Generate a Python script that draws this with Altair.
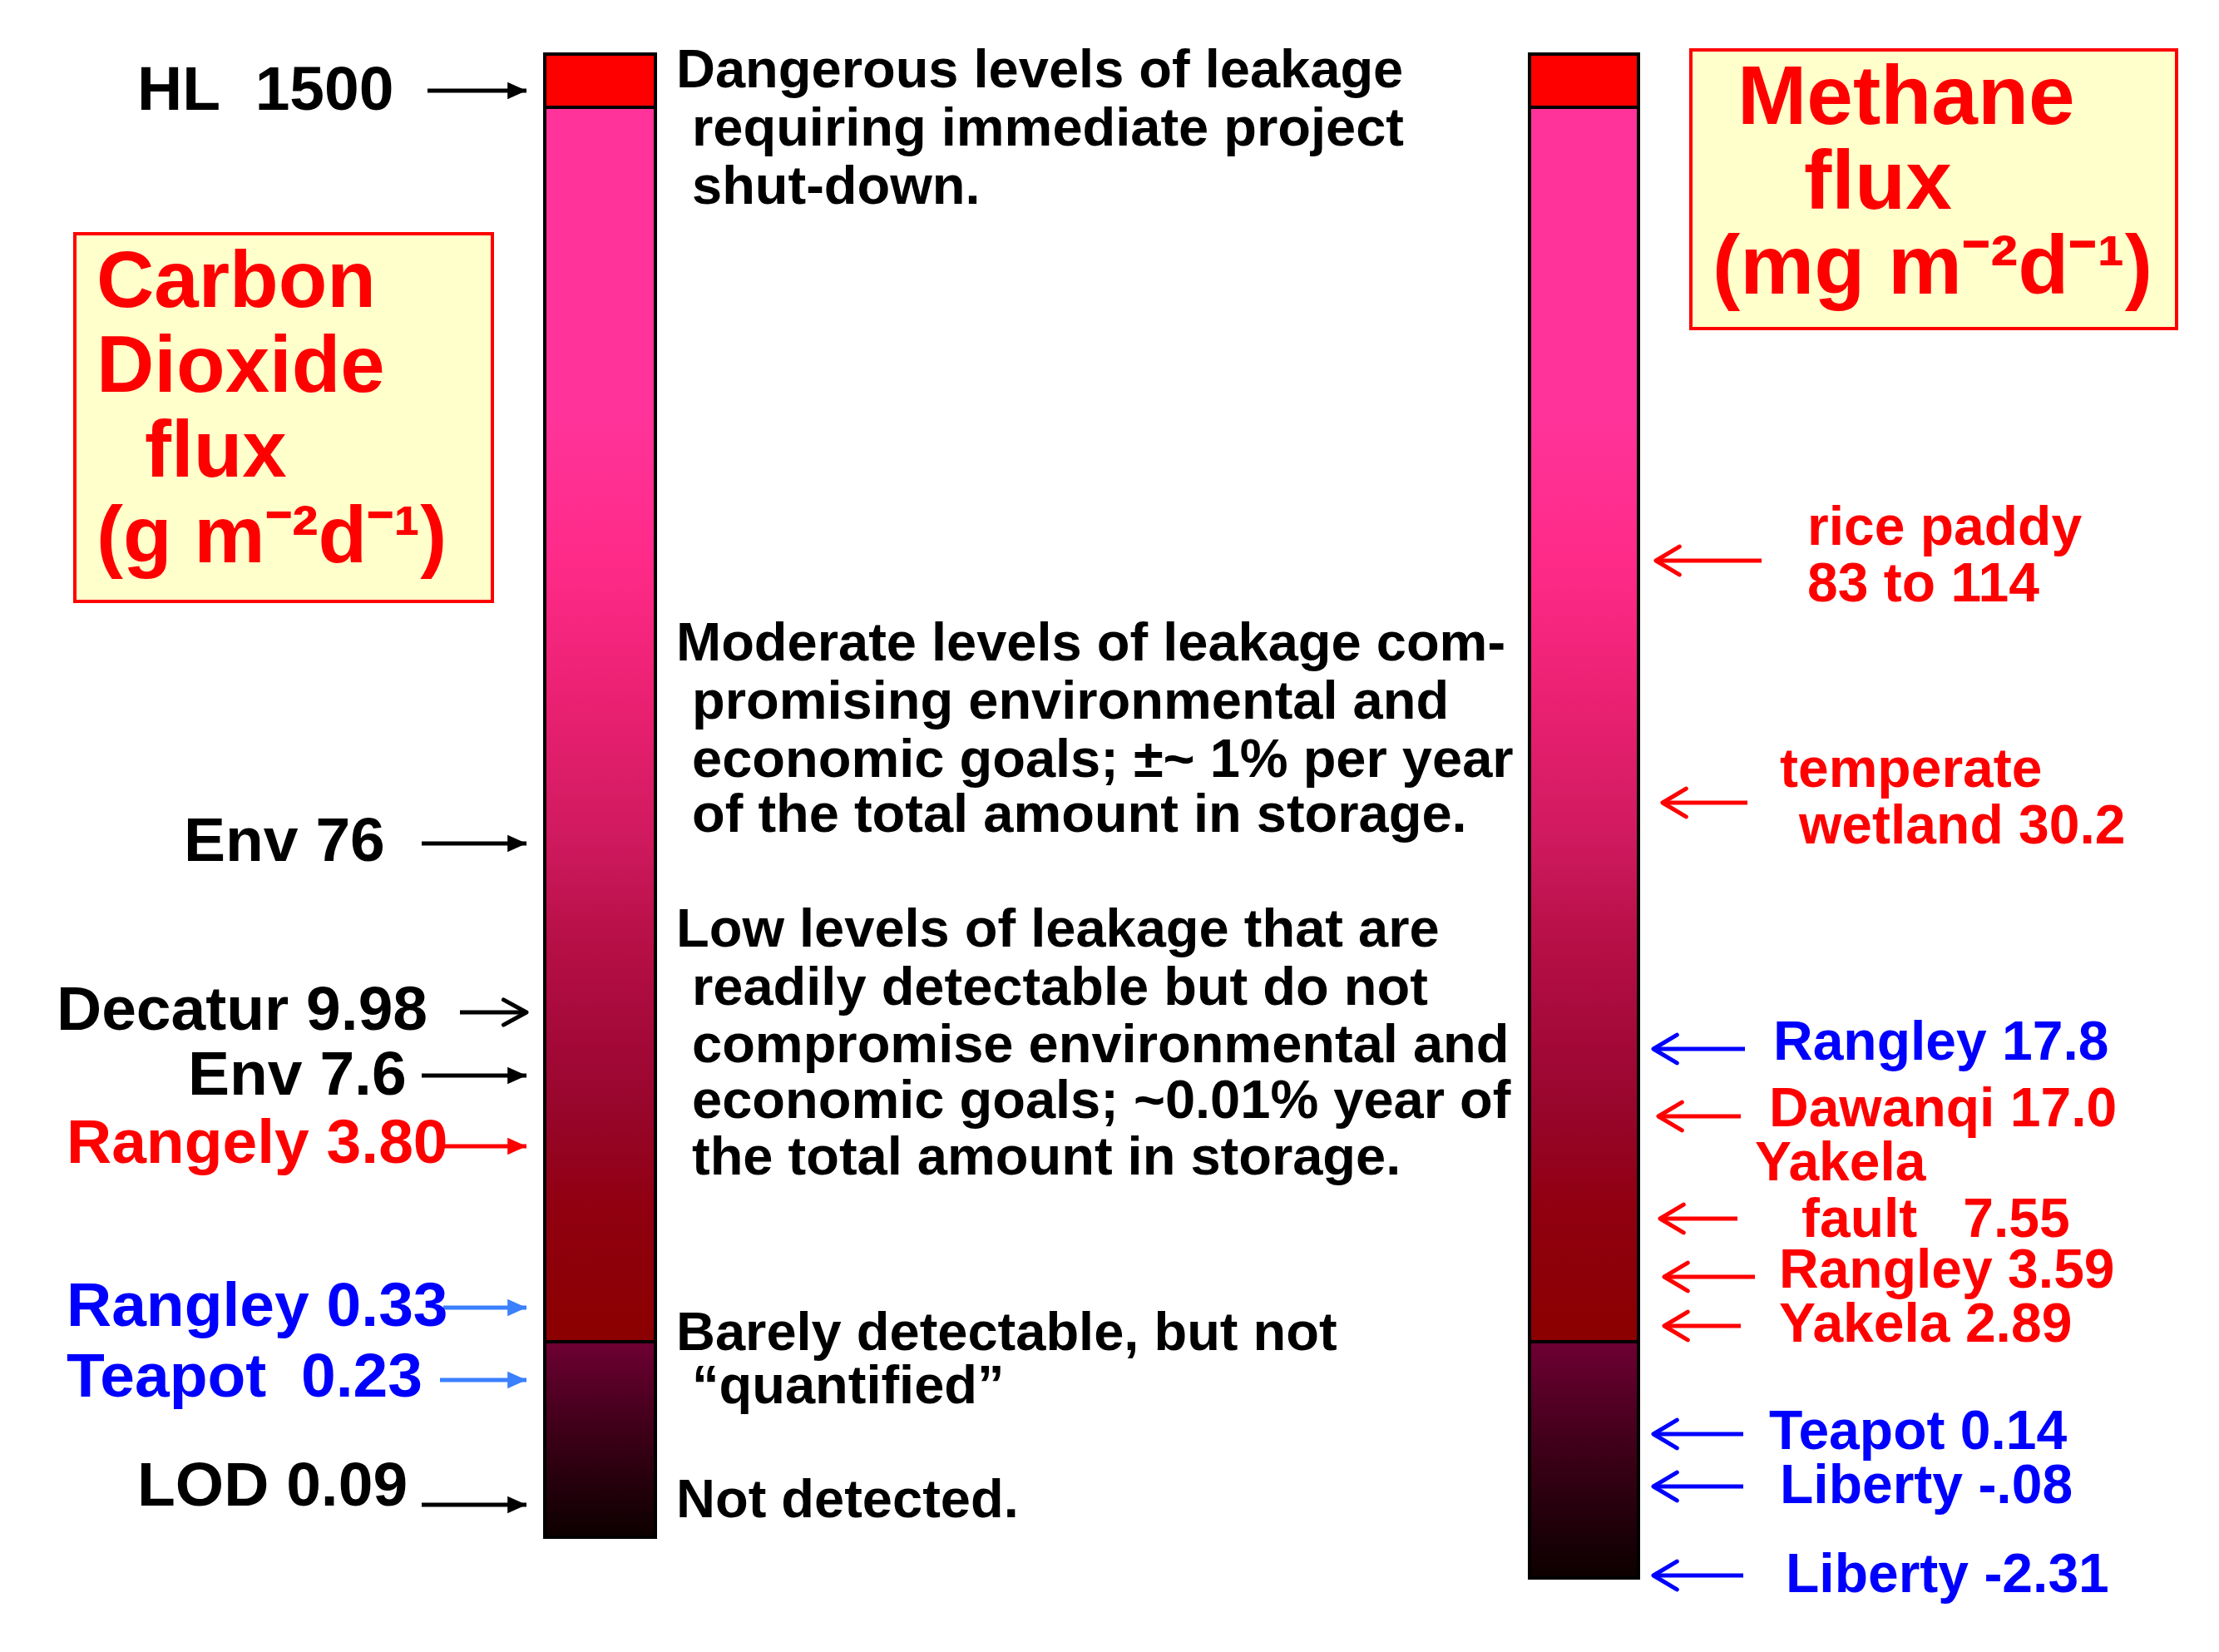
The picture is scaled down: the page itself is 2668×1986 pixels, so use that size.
import altair as alt
import pandas as pd

FONT = "Liberation Sans"
RED = "#FF0000"
BLUE = "#0000FF"
LBLUE = "#3A80FF"
BLACK = "#000000"

# ---------------- schematic flux scale (positions in reference pixel units) -------------
# bars: one column for CO2, one for CH4; three bands each
bar_name = ["CO2", "CO2", "CO2", "CH4", "CH4", "CH4"]
bar_band = ["dangerous", "leak", "barely", "dangerous", "leak", "barely"]
bar_left = [655, 655, 655, 1839, 1839, 1839]
bar_right = [788, 788, 788, 1970, 1970, 1970]
bar_top = [65, 129, 1613, 65, 129, 1613]
bar_bottom = [129, 1613, 1848, 129, 1613, 1897]

# CO2 observations (left side)
co2_text = ["HL\u00a0\u00a01500", "Env 76", "Decatur 9.98", "Env 7.6",
            "Rangely 3.80", "Rangley 0.33", "Teapot\u00a0\u00a00.23", "LOD 0.09"]
co2_text_x = [165, 221, 68, 226, 80, 80, 80, 165]
co2_text_y = [109, 1012, 1215, 1293, 1375, 1571, 1656, 1787]
co2_text_c = [BLACK, BLACK, BLACK, BLACK, RED, BLUE, BLUE, BLACK]
co2_arrow_y = [109, 1014, 1217, 1293, 1378, 1572, 1659, 1809]
co2_arrow_tail = [514, 507, 553, 507, 533, 533, 529, 507]
co2_arrow_tip = [633, 633, 633, 633, 633, 633, 633, 633]
co2_arrow_c = [BLACK, BLACK, BLACK, BLACK, RED, LBLUE, LBLUE, BLACK]
co2_arrow_open = [False, False, True, False, False, False, False, False]

# CH4 observations (right side)
ch4_text = ["rice paddy", "83 to 114", "temperate", "wetland 30.2",
            "Rangley 17.8", "Dawanqi 17.0", "Yakela", "fault\u00a0\u00a0\u00a07.55",
            "Rangley 3.59", "Yakela 2.89", "Teapot 0.14", "Liberty -.08", "Liberty -2.31"]
ch4_text_x = [2173, 2173, 2140, 2163, 2132, 2127, 2110, 2166, 2139, 2139, 2127, 2140, 2147]
ch4_text_y = [635, 703, 926, 994, 1254, 1334, 1399, 1467, 1528, 1593, 1722, 1787, 1894]
ch4_text_c = [RED, RED, RED, RED, BLUE, RED, RED, RED, RED, RED, BLUE, BLUE, BLUE]
ch4_arrow_y = [674, 965, 1261, 1342, 1465, 1535, 1594, 1724, 1787, 1894]
ch4_arrow_tip = [1991, 1999, 1988, 1994, 1996, 2001, 2001, 1988, 1988, 1988]
ch4_arrow_tail = [2118, 2101, 2098, 2093, 2089, 2110, 2093, 2096, 2096, 2096]
ch4_arrow_c = [RED, RED, BLUE, RED, RED, RED, RED, BLUE, BLUE, BLUE]

# leakage level descriptions (middle column)
desc_text = [
    "Dangerous levels of leakage",
    "requiring immediate project",
    "shut-down.",
    "Moderate levels of leakage com-",
    "promising environmental and",
    "economic goals; \u00b1~ 1% per year",
    "of the total amount in storage.",
    "Low levels of leakage that are",
    "readily detectable but do not",
    "compromise environmental and",
    "economic goals; ~0.01% year of",
    "the total amount in storage.",
    "Barely detectable, but not",
    "\u201cquantified\u201d",
    "Not detected.",
]
desc_x = [813, 832, 832, 813, 832, 832, 832, 813, 832, 832, 832, 832, 813, 832, 813]
desc_y = [85, 155, 225, 774, 844, 914, 980, 1118, 1188, 1257, 1324, 1392, 1603, 1667, 1804]

# title boxes
box_x1 = [90, 2033]
box_x2 = [592, 2617]
box_y1 = [281, 60]
box_y2 = [723, 395]
title_text = ["Carbon", "Dioxide", "flux", "(g m\u207b\u00b2d\u207b\u00b9)",
              "Methane", "flux", "(mg m\u207b\u00b2d\u207b\u00b9)"]
title_x = [116, 116, 174, 116, 2089, 2169, 2059]
title_y = [340, 442, 544, 647, 119, 221, 323]
title_size = [96, 96, 96, 96, 100, 100, 100]

# ---------------- data frames ----------------
bars = pd.DataFrame(dict(name=bar_name, band=bar_band, x1=bar_left, x2=bar_right,
                         y1=bar_top, y2=bar_bottom))
co2_lab = pd.DataFrame(dict(t=co2_text, x=co2_text_x, y=co2_text_y, c=co2_text_c))
co2_arr = pd.DataFrame(dict(y=co2_arrow_y, x1=co2_arrow_tail, x2=co2_arrow_tip,
                            c=co2_arrow_c, open=co2_arrow_open))
ch4_lab = pd.DataFrame(dict(t=ch4_text, x=ch4_text_x, y=ch4_text_y, c=ch4_text_c))
ch4_arr = pd.DataFrame(dict(y=ch4_arrow_y, x1=ch4_arrow_tail, x2=ch4_arrow_tip, c=ch4_arrow_c))
desc = pd.DataFrame(dict(t=desc_text, x=desc_x, y=desc_y))
boxes = pd.DataFrame(dict(x1=box_x1, x2=box_x2, y1=box_y1, y2=box_y2))
titles = pd.DataFrame(dict(t=title_text, x=title_x, y=title_y, s=title_size))

xs = alt.Scale(domain=[8, 2660], nice=False, zero=False)
ys = alt.Scale(domain=[8, 1978], nice=False, zero=False, reverse=True)


def X(f):
    return alt.X(f, type="quantitative", scale=xs, axis=None)


def Y(f):
    return alt.Y(f, type="quantitative", scale=ys, axis=None)


def grad(stops):
    return alt.Gradient(gradient="linear", x1=0, y1=0, x2=0, y2=1,
                        stops=[alt.GradientStop(offset=o, color=c) for o, c in stops])


pink_grad = grad([(0.0, "#FF3399"), (0.25, "#FF3399"), (0.37, "#FF2A88"),
                  (0.49, "#E82070"), (0.59, "#D01A5F"), (0.67, "#B81048"),
                  (0.75, "#A5093A"), (0.81, "#98062C"), (0.89, "#900010"),
                  (1.0, "#8B0000")])
dark_grad = grad([(0.0, "#6E0033"), (0.45, "#3E0018"), (1.0, "#0C0000")])


def band_layer(band, fill):
    return alt.Chart(bars).transform_filter(alt.datum.band == band).mark_rect(
        fill=fill, stroke=BLACK, strokeWidth=4
    ).encode(x=X("x1"), x2="x2", y=Y("y1"), y2="y2")


box_layer = alt.Chart(boxes).mark_rect(fill="#FFFFCC", stroke=RED, strokeWidth=4).encode(
    x=X("x1"), x2="x2", y=Y("y1"), y2="y2")

title_layer = alt.Chart(titles).mark_text(
    align="left", baseline="middle", font=FONT, fontWeight="bold", color=RED
).encode(x=X("x"), y=Y("y"), text="t:N", size=alt.Size("s:Q", scale=None))

co2_rule = alt.Chart(co2_arr).mark_rule(strokeWidth=5).encode(
    x=X("x1"), x2="x2", y=Y("y"), color=alt.Color("c:N", scale=None))
co2_head_fill = alt.Chart(co2_arr).transform_filter("!datum.open").mark_point(
    shape="M0,0L-2,-0.9L-2,0.9Z", filled=True, size=520, opacity=1, strokeWidth=0
).encode(x=X("x2"), y=Y("y"), color=alt.Color("c:N", scale=None))
co2_head_open = alt.Chart(co2_arr).transform_filter("datum.open").mark_point(
    shape="M-2,-1.1L0,0L-2,1.1", filled=False, size=760, opacity=1, strokeWidth=5,
    strokeCap="round", strokeJoin="round"
).encode(x=X("x2"), y=Y("y"), color=alt.Color("c:N", scale=None))

ch4_rule = alt.Chart(ch4_arr).mark_rule(strokeWidth=5).encode(
    x=X("x1"), x2="x2", y=Y("y"), color=alt.Color("c:N", scale=None))
ch4_head = alt.Chart(ch4_arr).mark_point(
    shape="M2,-1.2L0,0L2,1.2", filled=False, size=800, opacity=1, strokeWidth=5,
    strokeCap="round", strokeJoin="round"
).encode(x=X("x2"), y=Y("y"), color=alt.Color("c:N", scale=None))

co2_text_layer = alt.Chart(co2_lab).mark_text(
    align="left", baseline="middle", font=FONT, fontWeight="bold", fontSize=75
).encode(x=X("x"), y=Y("y"), text="t:N", color=alt.Color("c:N", scale=None))

ch4_text_layer = alt.Chart(ch4_lab).mark_text(
    align="left", baseline="middle", font=FONT, fontWeight="bold", fontSize=66
).encode(x=X("x"), y=Y("y"), text="t:N", color=alt.Color("c:N", scale=None))

desc_layer = alt.Chart(desc).mark_text(
    align="left", baseline="middle", font=FONT, fontWeight="bold", fontSize=65, color=BLACK
).encode(x=X("x"), y=Y("y"), text="t:N")

chart = alt.layer(
    box_layer, title_layer,
    band_layer("dangerous", RED), band_layer("leak", pink_grad), band_layer("barely", dark_grad),
    co2_rule, co2_head_fill, co2_head_open, ch4_rule, ch4_head,
    co2_text_layer, ch4_text_layer, desc_layer,
).properties(
    width=2652, height=1970,
    autosize=alt.AutoSizeParams(type="fit", contains="padding"),
    padding=0, background="white",
).configure_view(strokeWidth=0)

chart.save("out.html", embed_options={"renderer": "svg", "actions": False})
